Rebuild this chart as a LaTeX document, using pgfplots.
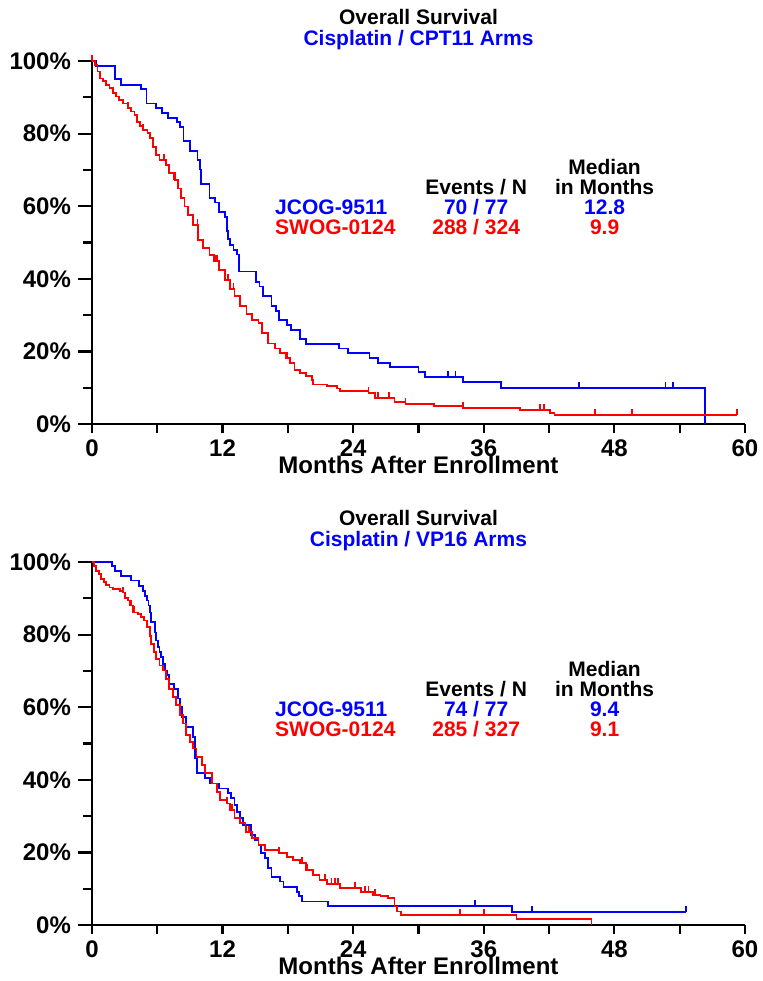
\documentclass[border=0pt]{standalone}
\usepackage{fontspec}
\setmainfont{Liberation Sans}
\usepackage{pgfplots}
\pgfplotsset{compat=1.18}

\definecolor{kmblue}{RGB}{0,0,255}
\definecolor{kmred}{RGB}{255,0,0}

% censoring tick: a short stroke pointing up from the curve
\pgfdeclareplotmark{cens}{%
  \pgfpathmoveto{\pgfpointorigin}%
  \pgfpathlineto{\pgfpoint{0pt}{\pgfplotmarksize}}%
  \pgfusepathqstroke}

\newcommand\tickfont{\fontsize{12}{14}\selectfont\bfseries}
\newcommand\txtfont{\fontsize{10.5}{12}\selectfont\bfseries}

\tikzset{kmtext/.style={font=\txtfont, text height=7.6pt, text depth=0pt, inner sep=0pt}}

\pgfplotsset{
  kmaxis/.style={
    width=326.5pt, height=181.5pt, scale only axis,
    xmin=0, xmax=60, ymin=0, ymax=100,
    axis lines=left, axis line style={line width=1.2pt,-},
    clip=false,
    tick align=outside, major tick length=4.5pt,
    tick style={line width=1.1pt,black},
    xtick={0,6,...,60},
    xticklabels={0,,12,,24,,36,,48,,60},
    xticklabel style={font=\tickfont},
    ytick={10,30,50,70,90}, yticklabels={},
    extra y ticks={0,20,40,60,80,100},
    extra y tick labels={0\%,20\%,40\%,60\%,80\%,100\%},
    extra y tick style={major tick length=7pt, yticklabel style={font=\tickfont}},
    xlabel={Months After Enrollment},
    xlabel style={font=\tickfont, at={(axis description cs:0.5,-0.113)}, anchor=center},
    every axis plot/.append style={line width=0.9pt},
  },
}

\begin{document}
\begin{tikzpicture}
\useasboundingbox (-46pt,-278.5pt) rectangle (335pt,212pt);

% ---------- top panel: Cisplatin / CPT11 ----------
\begin{axis}[kmaxis, at={(0,0)}, anchor=south west]
\addplot[const plot, kmblue] coordinates {
 (0,100) (0.4,98.7) (2.1,95.0) (2.7,93.5) (4.5,92.2) (5.0,88.3) (5.9,87.0)
 (6.4,85.7) (7.0,84.4) (7.8,83.1) (8.1,81.8) (8.4,78.0) (9.0,75.3) (9.7,72.7)
 (9.9,70.1) (10.0,66.2) (10.8,62.3) (11.3,61.0) (11.7,58.4) (12.2,57.1)
 (12.4,53.2) (12.5,51.0) (12.7,49.3) (13.0,48.0) (13.3,46.7) (13.5,42.0)
 (15.1,39.2) (15.4,37.9) (15.7,35.3) (16.5,32.5) (16.9,31.2) (17.2,28.6)
 (17.9,27.3) (18.3,26.0) (19.1,23.4) (19.7,22.1) (22.7,20.8) (23.5,19.5)
 (25.5,18.2) (26.3,16.9) (27.4,15.6) (30.0,14.3) (30.6,13.0) (34.1,11.5)
 (37.6,10.0) (56.3,0)
};
\addplot[only marks, mark=cens, mark size=3pt, kmblue] coordinates {
 (32.7,13.0) (33.4,13.0) (44.7,10.0) (44.8,10.0) (52.7,10.0) (53.4,10.0)
};
\addplot[const plot, kmred] coordinates {
 (0,100) (0.25,98.9) (0.5,97.1) (0.7,95.2) (1.0,94.5) (1.3,93.4) (1.6,92.5)
 (1.9,91.1) (2.2,90.2) (2.5,89.3) (2.85,88.3) (3.3,87.0) (3.6,86.1) (3.9,85.1)
 (4.15,83.3) (4.4,82.2) (4.7,81.0) (5.1,80.1) (5.3,78.7) (5.6,76.4) (5.9,74.1)
 (6.2,72.7) (6.8,71.4) (7.1,69.1) (7.6,67.2) (7.9,64.9) (8.2,62.2) (8.5,59.9)
 (8.8,57.6) (9.3,54.8) (9.75,50.7) (10.2,48.4) (10.8,46.6) (11.2,45.0)
 (11.7,42.4) (12.2,39.7) (12.7,37.2) (13.1,35.3) (13.6,32.5) (14.2,30.2)
 (14.7,28.7) (15.3,27.8) (15.6,25.0) (16.2,22.2) (16.8,20.8) (17.3,19.5)
 (17.8,18.1) (18.2,16.9) (18.6,14.9) (19.1,14.0) (19.7,13.2) (20.2,12.1)
 (20.3,10.9) (21.6,10.5) (22.5,9.8) (22.8,9.1) (25.4,8.5) (26.0,7.1)
 (27.8,6.1) (28.8,5.5) (31.4,5.0) (34.1,4.5) (39.3,3.9) (42.1,3.1)
 (42.5,2.5) (59.3,2.5)
};
\addplot[only marks, mark=cens, mark size=3pt, kmred] coordinates {
 (0,100) (3.3,87.0) (4.7,81.0) (5.3,78.7) (6.2,72.7) (6.6,72.7) (7.5,67.2)
 (9.7,54.8) (10.8,46.6) (11.3,45.0) (11.5,45.0) (12.5,39.7) (13.0,37.2)
 (17.9,18.1) (25.4,8.5) (26.3,7.1) (27.3,7.1) (28.8,5.5) (34.1,4.5)
 (41.2,3.9) (41.5,3.9) (46.2,2.5) (49.6,2.5) (59.3,2.5)
};
\node[kmtext, anchor=center] at (axis description cs:0.5,1.121) {Overall Survival};
\node[kmtext, anchor=center, text=kmblue] at (axis description cs:0.5,1.063) {Cisplatin / CPT11 Arms};
\node[kmtext, anchor=center] at (axis cs:47.1,70.8) {Median};
\node[kmtext, anchor=center] at (axis cs:47.1,65.3) {in Months};
\node[kmtext, anchor=center] at (axis cs:35.3,65.3) {Events / N};
\node[kmtext, anchor=west, text=kmblue] at (axis cs:16.8,59.8) {JCOG-9511};
\node[kmtext, anchor=center, text=kmblue] at (axis cs:35.3,59.8) {70 / 77};
\node[kmtext, anchor=center, text=kmblue] at (axis cs:47.1,59.8) {12.8};
\node[kmtext, anchor=west, text=kmred] at (axis cs:16.8,54.3) {SWOG-0124};
\node[kmtext, anchor=center, text=kmred] at (axis cs:35.3,54.3) {288 / 324};
\node[kmtext, anchor=center, text=kmred] at (axis cs:47.1,54.3) {9.9};
\end{axis}

% ---------- bottom panel: Cisplatin / VP16 ----------
\begin{axis}[kmaxis, at={(0,-250.5pt)}, anchor=south west]
\addplot[const plot, kmblue] coordinates {
 (0,100) (1.84,98.8) (2.1,97.6) (2.7,96.2) (3.6,94.9) (4.3,93.5) (4.7,92.1)
 (4.9,90.7) (5.08,89.4) (5.2,88.0) (5.3,86.1) (5.45,83.4) (5.76,80.6)
 (5.9,78.4) (6.06,76.5) (6.2,75.2) (6.35,73.8) (6.52,72.0) (6.7,70.1)
 (6.89,68.8) (7.1,66.5) (7.53,65.1) (7.9,62.4) (8.1,60.1) (8.27,57.3)
 (8.67,54.6) (9.28,51.8) (9.43,45.9) (9.67,41.8) (10.4,40.4) (10.84,39.0)
 (11.7,37.6) (12.5,36.3) (12.8,34.9) (13.1,33.0) (13.35,31.2) (13.6,29.4)
 (13.9,27.5) (14.6,24.8) (15.0,23.4) (15.3,22.1) (15.5,19.8) (15.9,18.4)
 (16.2,15.7) (16.5,13.2) (17.3,12.0) (17.6,10.4) (18.8,9.2) (19.0,7.9)
 (19.3,6.5) (21.7,5.3) (38.6,3.5) (54.6,3.5)
};
\addplot[only marks, mark=cens, mark size=3pt, kmblue] coordinates {
 (35.2,5.3) (40.4,3.5) (54.6,3.5)
};
\addplot[const plot, kmred] coordinates {
 (0,100) (0.2,99.0) (0.4,97.6) (0.61,96.7) (0.86,95.3) (1.1,94.4) (1.32,93.7)
 (1.6,93.0) (1.93,92.6) (2.54,92.1) (2.85,91.6) (3.06,90.0) (3.3,89.4)
 (3.5,88.0) (3.8,86.1) (4.2,85.7) (4.5,84.8) (4.8,83.9) (5.08,82.0)
 (5.3,79.7) (5.45,77.5) (5.7,75.2) (5.9,73.3) (6.2,71.5) (6.5,70.1)
 (6.8,67.8) (7.1,65.1) (7.44,62.8) (7.75,60.5) (8.06,57.8) (8.36,55.5)
 (8.67,52.3) (8.97,50.4) (9.28,48.6) (9.6,46.3) (10.1,44.0) (10.4,41.8)
 (11.0,39.0) (11.46,36.7) (11.77,34.4) (12.4,33.5) (12.7,31.7) (13.1,29.4)
 (13.6,28.0) (14.1,25.7) (14.7,23.9) (15.3,22.1) (15.9,20.7) (17.2,19.8)
 (17.9,18.8) (18.5,17.9) (19.1,17.0) (19.7,15.2) (20.3,13.8) (20.9,12.4)
 (21.6,11.3) (22.8,10.2) (24.7,9.2) (25.8,8.3) (26.5,7.9) (27.2,7.4)
 (27.8,5.1) (28.0,3.7) (28.4,2.8) (39.0,1.6) (45.9,0)
};
\addplot[only marks, mark=cens, mark size=3pt, kmred] coordinates {
 (2.85,91.6) (3.6,88.0) (3.9,86.1) (12.4,33.5) (12.9,31.7) (14.2,25.7)
 (14.4,25.7) (17.2,19.8) (19.3,17.0) (19.8,15.2) (21.4,12.4) (22.0,11.3)
 (22.3,11.3) (22.6,11.3) (24.2,10.2) (25.1,9.2) (25.4,9.2) (26.0,8.3)
 (33.8,2.8) (36.0,2.8)
};
\node[kmtext, anchor=center] at (axis description cs:0.5,1.121) {Overall Survival};
\node[kmtext, anchor=center, text=kmblue] at (axis description cs:0.5,1.063) {Cisplatin / VP16 Arms};
\node[kmtext, anchor=center] at (axis cs:47.1,70.6) {Median};
\node[kmtext, anchor=center] at (axis cs:47.1,65.1) {in Months};
\node[kmtext, anchor=center] at (axis cs:35.3,65.1) {Events / N};
\node[kmtext, anchor=west, text=kmblue] at (axis cs:16.8,59.6) {JCOG-9511};
\node[kmtext, anchor=center, text=kmblue] at (axis cs:35.3,59.6) {74 / 77};
\node[kmtext, anchor=center, text=kmblue] at (axis cs:47.1,59.6) {9.4};
\node[kmtext, anchor=west, text=kmred] at (axis cs:16.8,53.9) {SWOG-0124};
\node[kmtext, anchor=center, text=kmred] at (axis cs:35.3,53.9) {285 / 327};
\node[kmtext, anchor=center, text=kmred] at (axis cs:47.1,53.9) {9.1};
\end{axis}
\end{tikzpicture}
\end{document}
